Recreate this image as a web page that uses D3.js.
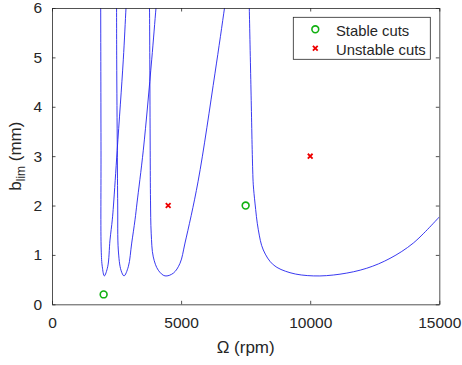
<!DOCTYPE html>
<html>
<head>
<meta charset="utf-8">
<script src="https://cdn.jsdelivr.net/npm/d3@7"></script>
<style>
  body { margin: 0; background: #fff; }
  text { font-family: "Liberation Sans", Arial, Helvetica, sans-serif; fill: #262626; }
</style>
</head>
<body>
<svg id="chart" width="462" height="365"></svg>
<script>
// stability lobes: [spindle speed (rpm), b_lim (mm)]
const lobe1 = [[1884, 6.3], [1886, 6.0], [1898, 3.12], [1906, 1.10], [1948, 0.76], [2026, 0.575],
    [2157, 0.76], [2246, 1.30], [2335, 1.71], [2382, 2.01], [2525, 3.12], [2761, 4.95], [2866, 6.0], [2900, 6.3]];
const lobe2 = [[2500, 6.3], [2506, 4.95], [2529, 3.12], [2545, 2.01], [2568, 1.10], [2672, 0.69], [2789, 0.575],
    [2955, 0.76], [3087, 1.24], [3215, 1.71], [3292, 2.05], [3536, 3.12], [3861, 4.95], [4028, 6.0], [4080, 6.3]];
const lobe3 = [[3765, 6.3], [3776, 6.0], [3788, 4.95], [3803, 3.12], [3815, 2.11], [3842, 1.44], [3923, 0.96],
    [4117, 0.69], [4377, 0.575], [4698, 0.63], [4957, 0.83], [5151, 1.24], [5655, 2.48],
    [6313, 4.68], [6681, 6.0], [6760, 6.3]];
const lobe4 = [[7630, 6.3], [7641, 6.0], [7707, 4.34], [7773, 2.72], [7796, 2.42], [7862, 2.05], [7990, 1.51],
    [8184, 1.10], [8571, 0.80], [9218, 0.64], [10120, 0.575], [11154, 0.61], [12188, 0.73], [13091, 0.93],
    [13993, 1.24], [15000, 1.77]];
const lobes = [lobe1, lobe2, lobe3, lobe4];

const stableCuts = [[2000, 0.2], [7500, 2]];
const unstableCuts = [[4500, 2], [10000, 3]];

const xTicks = [0, 5000, 10000, 15000];
const yTicks = [0, 1, 2, 3, 4, 5, 6];
const legendLabels = ["Stable cuts", "Unstable cuts"];

const margin = {top: 8, left: 52};
const width = 387.3, height = 296.3;
const axisColor = "#262626";

const svg = d3.select("#chart");
const g = svg.append("g").attr("transform", `translate(${margin.left},${margin.top})`);

const x = d3.scaleLinear().domain([0, 15000]).range([0, width]);
const y = d3.scaleLinear().domain([0, 6]).range([height, 0]);

svg.append("defs").append("clipPath").attr("id", "plot-clip")
    .append("rect").attr("width", width).attr("height", height);

// lobes
const line = d3.line()
    .x(d => x(d[0]))
    .y(d => y(d[1]))
    .curve(d3.curveCatmullRom.alpha(0.5));

g.append("g").attr("clip-path", "url(#plot-clip)")
    .selectAll("path")
    .data(lobes)
    .enter().append("path")
    .attr("d", line)
    .style("fill", "none")
    .style("stroke", "#2222ee")
    .style("stroke-width", 0.9);

// axes, MATLAB style box with ticks inside on all sides
const tickLen = 3.5;
const fontSize = 15.5;

const xAxisBottom = d3.axisBottom(x).tickValues(xTicks).tickFormat(d3.format("d"))
    .tickSize(-tickLen).tickPadding(13).tickSizeOuter(0);
const xAxisTop = d3.axisTop(x).tickValues(xTicks).tickSize(-tickLen).tickFormat("").tickSizeOuter(0);
const yAxisLeft = d3.axisLeft(y).tickValues(yTicks).tickFormat(d3.format("d"))
    .tickSize(-tickLen).tickPadding(10).tickSizeOuter(0);
const yAxisRight = d3.axisRight(y).tickValues(yTicks).tickSize(-tickLen).tickFormat("").tickSizeOuter(0);

function styleAxis(sel) {
    sel.selectAll("path").style("stroke", axisColor).style("stroke-width", 0.8);
    sel.selectAll("line").style("stroke", axisColor).style("stroke-width", 0.8);
    sel.selectAll("text")
        .style("font-family", "'Liberation Sans', Arial, sans-serif")
        .style("font-size", fontSize + "px")
        .style("fill", axisColor);
    sel.attr("font-family", null).attr("font-size", null);
}

g.append("g").attr("transform", `translate(0,${height})`).call(xAxisBottom).call(styleAxis);
g.append("g").call(xAxisTop).call(styleAxis);
g.append("g").call(yAxisLeft).call(styleAxis);
g.append("g").attr("transform", `translate(${width},0)`).call(yAxisRight).call(styleAxis);

// cut markers
g.selectAll(".stable")
    .data(stableCuts)
    .enter().append("circle")
    .attr("class", "stable")
    .attr("cx", d => x(d[0]))
    .attr("cy", d => y(d[1]))
    .attr("r", 3.4)
    .style("fill", "none")
    .style("stroke", "#11b011")
    .style("stroke-width", 1.6);

const crossPath = s => `M${-s},${-s}L${s},${s}M${-s},${s}L${s},${-s}`;

g.selectAll(".unstable")
    .data(unstableCuts)
    .enter().append("path")
    .attr("class", "unstable")
    .attr("transform", d => `translate(${x(d[0])},${y(d[1])})`)
    .attr("d", crossPath(2.4))
    .style("stroke", "#ee0000")
    .style("stroke-width", 1.8)
    .style("fill", "none");

// axis labels
svg.append("text")
    .attr("x", margin.left + width / 2)
    .attr("y", 352.5)
    .attr("text-anchor", "middle")
    .style("font-size", "17px")
    .text("\u03A9 (rpm)");

const yLabel = svg.append("text")
    .attr("transform", `translate(20.5,${margin.top + height / 2}) rotate(-90)`)
    .attr("text-anchor", "middle")
    .style("font-size", "17px");
yLabel.append("tspan").text("b");
yLabel.append("tspan").attr("dy", 4).style("font-size", "12px").text("lim");
yLabel.append("tspan").attr("dy", -4).text(" (mm)");

// legend
const legend = svg.append("g").attr("transform", "translate(293.3,17.3)");
legend.append("rect")
    .attr("width", 137)
    .attr("height", 42)
    .style("fill", "#fff")
    .style("stroke", axisColor)
    .style("stroke-width", 0.8);

legend.append("circle")
    .attr("cx", 22).attr("cy", 12).attr("r", 3.4)
    .style("fill", "none").style("stroke", "#11b011").style("stroke-width", 1.6);
legend.append("path")
    .attr("transform", "translate(22,31)")
    .attr("d", crossPath(2.4))
    .style("stroke", "#ee0000").style("stroke-width", 1.8);

legend.selectAll(".legend-label")
    .data(legendLabels)
    .enter().append("text")
    .attr("class", "legend-label")
    .attr("x", 42.7)
    .attr("y", (d, i) => 18.5 + i * 19)
    .style("font-size", "14.8px")
    .text(d => d);
</script>
</body>
</html>
